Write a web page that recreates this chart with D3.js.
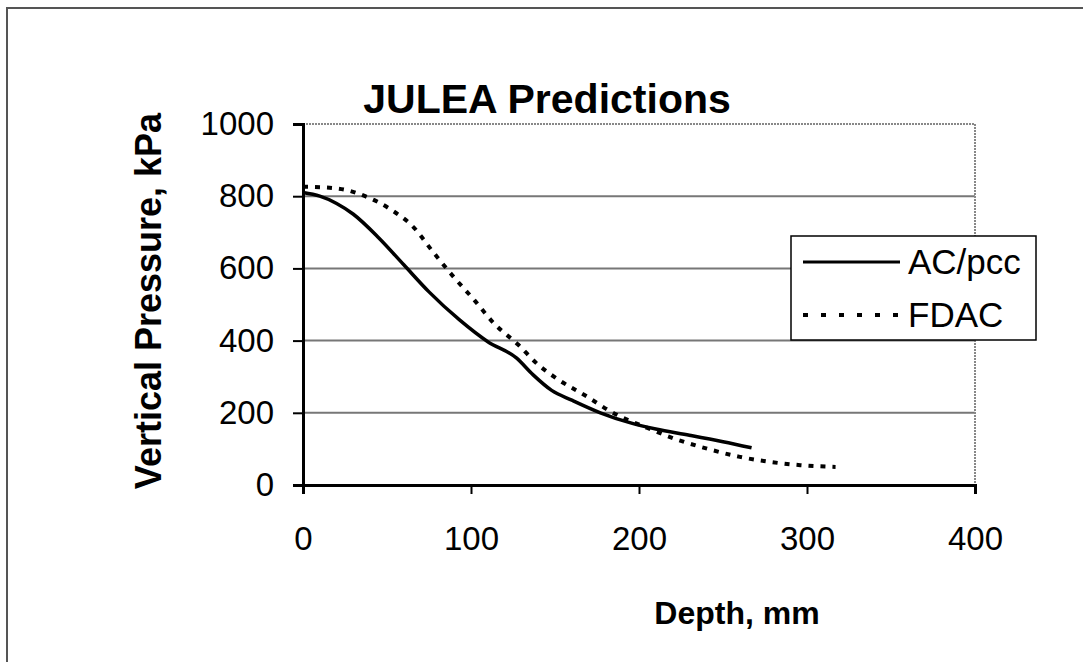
<!DOCTYPE html>
<html>
<head>
<meta charset="utf-8">
<script src="https://cdn.jsdelivr.net/npm/d3@7"></script>
<style>
  body { margin: 0; background: #fff; }
  text { font-family: "Liberation Sans", Arial, sans-serif; fill: #000; }
</style>
</head>
<body>
<script>
// depth (mm) / pressure (kPa) pairs
var acDepth = [0, 10, 20, 30, 45, 60, 75, 93, 110, 127, 137, 148, 160, 177, 195, 210, 230, 250, 267];
var acPress = [810, 800, 780, 750, 685, 610, 535, 458, 397, 352, 305, 262, 235, 200, 172, 155, 138, 120, 103];
var fdDepth = [0, 10, 25, 37, 52, 66, 77, 89, 102, 114, 128, 140, 152, 169, 183, 205, 222, 241, 260, 278, 296, 317];
var fdPress = [826, 825, 818, 800, 764, 713, 648, 580, 512, 446, 389, 333, 292, 245, 204, 158, 127, 100, 78, 64, 55, 50];
var xTicks = [0, 100, 200, 300, 400];
var yTicks = [0, 200, 400, 600, 800, 1000];
var seriesNames = ["AC/pcc", "FDAC"];

var w = 1083, h = 662;
var svg = d3.select("body").append("svg").attr("width", w).attr("height", h);

// outer frame (only top and left edges show)
svg.append("path").attr("d", "M7,662 V8 H1083").attr("fill", "none")
    .attr("stroke", "#555").attr("stroke-width", 2);

var x = d3.scaleLinear().domain([0, 400]).range([303, 975]);
var y = d3.scaleLinear().domain([0, 1000]).range([485, 124]);

// gridlines
svg.selectAll("line.grid").data(yTicks.slice(1, 5)).enter().append("line")
    .attr("class", "grid")
    .attr("x1", x(0)).attr("x2", x(400))
    .attr("y1", function(d) { return y(d); }).attr("y2", function(d) { return y(d); })
    .attr("stroke", "#777").attr("stroke-width", 2);

// plot border top/right
svg.append("path")
    .attr("d", "M" + x(0) + "," + y(1000) + "H" + x(400) + "V" + y(0))
    .attr("fill", "none").attr("stroke", "#888").attr("stroke-width", 2)
    .attr("stroke-dasharray", "2,1");

// axes
var yAxis = svg.append("g").attr("transform", "translate(" + x(0) + ",0)")
    .call(d3.axisLeft(y).tickValues(yTicks).tickFormat(d3.format("d"))
        .tickSize(10).tickPadding(19));
var xAxis = svg.append("g").attr("transform", "translate(0," + y(0) + ")")
    .call(d3.axisBottom(x).tickValues(xTicks).tickFormat(d3.format("d"))
        .tickSize(9).tickPadding(33));
[xAxis, yAxis].forEach(function(a) {
    a.select(".domain").attr("stroke", "#000").attr("stroke-width", 3);
    a.selectAll(".tick line").attr("stroke", "#000").attr("stroke-width", 2);
    a.selectAll(".tick text").style("font-size", "33px").attr("font-family", null);
});

// series
var line = d3.line()
    .x(function(d) { return x(d[0]); })
    .y(function(d) { return y(d[1]); })
    .curve(d3.curveMonotoneX);

var acData = acDepth.map(function(d, i) { return [d, acPress[i]]; });
var fdData = fdDepth.map(function(d, i) { return [d, fdPress[i]]; });

svg.append("path").datum(fdData).attr("d", line)
    .attr("fill", "none").attr("stroke", "#000").attr("stroke-width", 4)
    .attr("stroke-dasharray", "5,7");
svg.append("path").datum(acData).attr("d", line)
    .attr("fill", "none").attr("stroke", "#000").attr("stroke-width", 3.5);

// titles
svg.append("text").attr("x", 547).attr("y", 113).attr("text-anchor", "middle")
    .style("font-size", "41px").style("font-weight", "bold").text("JULEA Predictions");
svg.append("text").attr("x", 737).attr("y", 624).attr("text-anchor", "middle")
    .style("font-size", "32px").style("font-weight", "bold").text("Depth, mm");
svg.append("text").attr("transform", "translate(161,301) rotate(-90)")
    .attr("text-anchor", "middle")
    .style("font-size", "36px").style("font-weight", "bold").text("Vertical Pressure, kPa");

// legend
var lg = svg.append("g");
lg.append("rect").attr("x", 791).attr("y", 236).attr("width", 245).attr("height", 104)
    .attr("fill", "#fff").attr("stroke", "#000").attr("stroke-width", 1.5);
var dashes = [null, "5,13"];
seriesNames.forEach(function(name, i) {
    var ly = 262 + i * 53;
    lg.append("line").attr("x1", 803).attr("x2", 900).attr("y1", ly).attr("y2", ly)
        .attr("stroke", "#000").attr("stroke-width", i ? 4 : 3)
        .attr("stroke-dasharray", dashes[i]);
    lg.append("text").attr("x", 908).attr("y", ly + 12)
        .style("font-size", "35px").text(name);
});
</script>
</body>
</html>
